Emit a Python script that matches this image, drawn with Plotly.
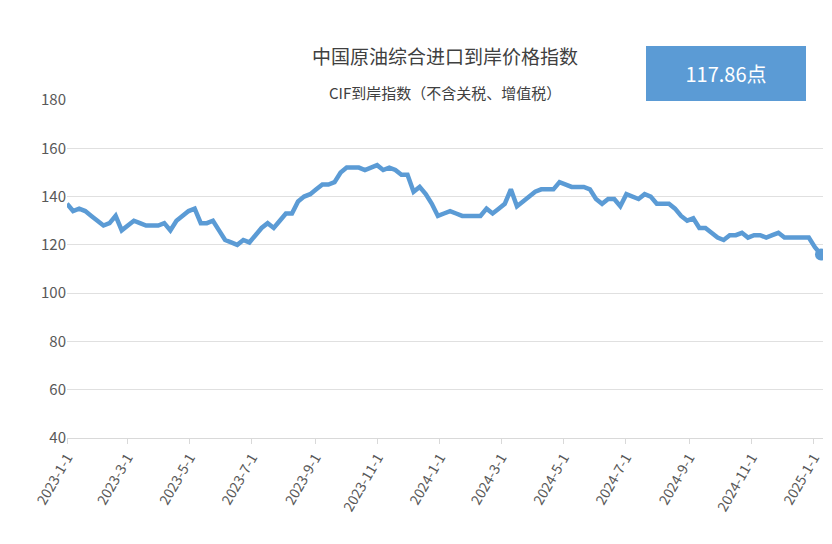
import plotly.graph_objects as go
import pandas as pd

# 周度数据
values = [137, 134, 135, 134, 132, 130, 128, 129, 132, 126, 128, 130, 129, 128, 128, 128,
          129, 126, 130, 132, 134, 135, 129, 129, 130, 126, 122, 121, 120, 122, 121, 124,
          127, 129, 127, 130, 133, 133, 138, 140, 141, 143, 145, 145, 146, 150, 152, 152,
          152, 151, 152, 153, 151, 152, 151, 149, 149, 142, 144, 141, 137, 132, 133, 134,
          133, 132, 132, 132, 132, 135, 133, 135, 137, 143, 136, 138, 140, 142, 143, 143,
          143, 146, 145, 144, 144, 144, 143, 139, 137, 139, 139, 136, 141, 140, 139, 141,
          140, 137, 137, 137, 135, 132, 130, 131, 127, 127, 125, 123, 122, 124, 124, 125,
          123, 124, 124, 123, 124, 125, 123, 123, 123, 123, 123, 119, 116]
dates = pd.date_range("2023-01-01", "2025-01-08", periods=len(values))
tick_vals = pd.date_range("2023-01-01", "2025-01-01", freq="2MS")
tick_text = [f"{d.year}-{d.month}-1" for d in tick_vals]

blue = "#5B9BD5"
fig = go.Figure()
fig.add_trace(go.Scatter(x=dates, y=values, mode="lines",
                         line=dict(color=blue, width=4.5)))
fig.add_trace(go.Scatter(x=[dates[-1]], y=[values[-1]], mode="markers",
                         marker=dict(color=blue, size=12)))

fig.update_layout(
    width=832, height=544, showlegend=False,
    plot_bgcolor="white", paper_bgcolor="white",
    margin=dict(l=59, r=17, t=92, b=114),
    font=dict(family="Noto Sans CJK SC", color="#595959"),
)
fig.update_xaxes(range=["2023-01-01", "2025-01-10"], tickvals=tick_vals, ticktext=tick_text,
                 tickangle=-60, showgrid=False, showline=True, linecolor="#d9d9d9",
                 ticks="outside", tickcolor="#d9d9d9", ticklen=5,
                 tickfont=dict(size=14, color="#595959"))
fig.update_yaxes(range=[40, 180], dtick=20, gridcolor="#e0e0e0", zeroline=False,
                 tickfont=dict(size=15, color="#595959"))

fig.add_annotation(text="中国原油综合进口到岸价格指数", xref="paper", yref="paper",
                   x=0.5, y=1, yshift=60, showarrow=False,
                   font=dict(size=19, color="#404040"))
fig.add_annotation(text="CIF到岸指数（不含关税、增值税）", xref="paper", yref="paper",
                   x=0.5, y=1, yshift=20, showarrow=False,
                   font=dict(size=15, color="#404040"))
fig.add_annotation(text="117.86点", xref="paper", yref="paper",
                   x=0.978, y=1, yshift=54, xanchor="right", showarrow=False,
                   bgcolor=blue, bordercolor=blue, borderpad=12, width=134,
                   font=dict(size=20, color="white"))

fig.write_html("out.html")
